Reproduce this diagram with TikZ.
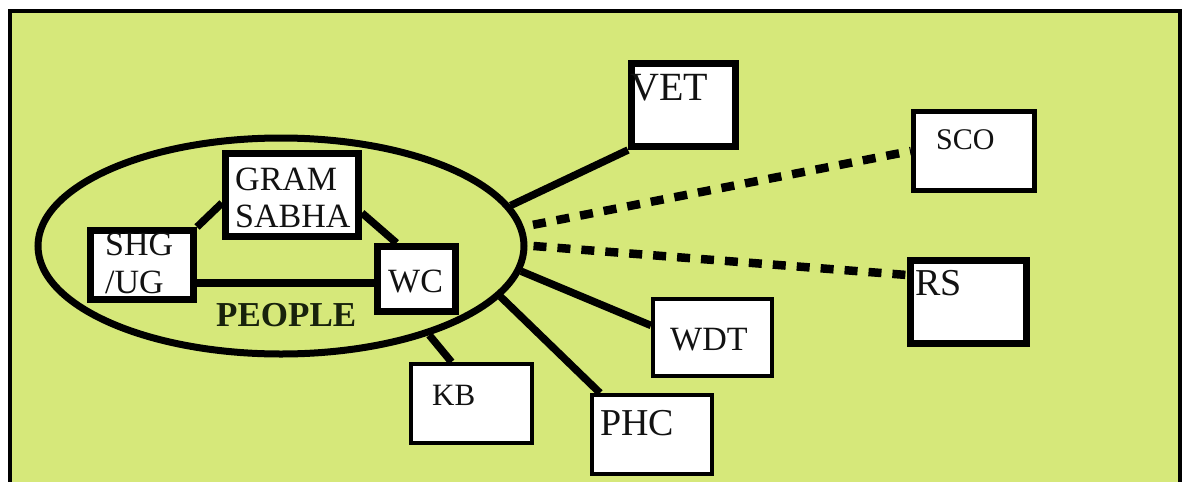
\documentclass[tikz,border=0pt]{standalone}
\usepackage{fontspec}
\setmainfont{Liberation Serif}
\usetikzlibrary{shapes.geometric}
\definecolor{bggreen}{RGB}{214,232,122}
\definecolor{txt}{RGB}{18,18,18}
\definecolor{peoplecol}{RGB}{24,34,12}
\pgfdeclarelayer{bg}
\pgfdeclarelayer{lines}
\pgfsetlayers{bg,lines,main}
\tikzset{
  box/.style={draw=black, fill=white, rectangle, inner sep=0pt},
  thickbox/.style={box, line width=7pt},
  thinbox/.style={box, line width=4pt},
  link/.style={line width=7.5pt, black},
  dashlink/.style={line width=8.5pt, black, dash pattern=on 13pt off 11pt},
  lbl/.style={anchor=base west, inner sep=0pt, text=txt},
}
\newcommand{\fs}[1]{\fontsize{#1}{#1}\selectfont}
\begin{document}
\begin{tikzpicture}[x=1pt,y=-1pt]
\useasboundingbox (0,0) rectangle (1189,482);
\clip (0,0) rectangle (1189,482);
\begin{pgfonlayer}{bg}
  \fill[white] (0,0) rectangle (1189,482);
  \draw[line width=3.5pt, fill=bggreen] (10,11) rectangle (1180,495);
\end{pgfonlayer}

% ellipse
\node[ellipse, draw, line width=7pt, minimum width=486pt, minimum height=216pt, inner sep=0pt] (ppl) at (281,246) {};

% boxes
\node[thickbox, minimum width=133pt, minimum height=83pt] (gram) at (292,195) {};
\node[thickbox, minimum width=103pt, minimum height=69pt] (shg) at (142,265) {};
\node[thickbox, minimum width=78pt, minimum height=65pt] (wc) at (416.5,279) {};
\node[thinbox, minimum width=121pt, minimum height=79pt] (kb) at (471.5,403.5) {};
\node[thickbox, minimum width=104pt, minimum height=83pt] (vet) at (683.5,105) {};
\node[box, line width=5pt, minimum width=121pt, minimum height=79pt] (sco) at (974,151) {};
\node[thickbox, minimum width=116pt, minimum height=83pt] (rs) at (968.5,302) {};
\node[thinbox, minimum width=119pt, minimum height=77pt] (wdt) at (712.5,337.5) {};
\node[thinbox, minimum width=120pt, minimum height=79pt] (phc) at (652,434.5) {};

% labels
\node[lbl, font=\fs{34}] (tgram) at (235,190) {GRAM};
\node[lbl, font=\fs{34}] (tsabha) at (235,227) {SABHA};
\node[lbl, font=\fs{34}] (tshg) at (105,255) {SHG};
\node[lbl, font=\fs{34}] (tug) at (105,293) {/UG};
\node[lbl, font=\fs{34}] (twc) at (388,292) {WC};
\node[lbl, font=\fs{35}\bfseries, text=peoplecol] (tpeople) at (216,326) {PEOPLE};
\node[lbl, font=\fs{31}] (tkb) at (432,405) {KB};
\node[lbl, font=\fs{40}] (tvet) at (630,100) {VET};
\node[lbl, font=\fs{30}] (tsco) at (936,149) {SCO};
\node[lbl, font=\fs{38}] (trs) at (915,295) {RS};
\node[lbl, font=\fs{34}] (twdt) at (670,350) {WDT};
\node[lbl, font=\fs{38}] (tphc) at (600,435) {PHC};

% connectors
\begin{pgfonlayer}{lines}
  \draw[link] (shg.north east) -- ([yshift=-8pt]gram.west);
  \draw[link] ([yshift=-18pt]gram.east) -- ([xshift=-20pt]wc.north);
  \draw[link] ([yshift=-18pt]shg.east) -- ([yshift=-4pt]wc.west);
  \draw[link] (ppl.10) -- (vet.south west);
  \draw[dashlink] ([xshift=10pt]ppl.5) -- (sco.west);
  \draw[dashlink] ([xshift=6pt]ppl.0) -- ([yshift=27pt]rs.west);
  \draw[link] (ppl.-6) -- ([yshift=12pt]wdt.west);
  \draw[link] (ppl.-13) -- ([xshift=10pt]phc.north west);
  \draw[link] (ppl.-31) -- ([xshift=-20pt]kb.north);
\end{pgfonlayer}
\end{tikzpicture}
\end{document}
